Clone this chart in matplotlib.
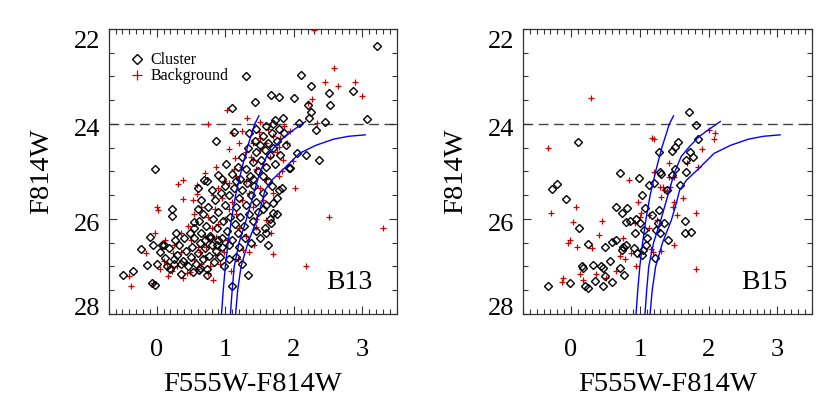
import numpy as np
import matplotlib
matplotlib.use("Agg")
from matplotlib import pyplot as plt
from matplotlib.ticker import MultipleLocator, FixedLocator
from matplotlib.transforms import ScaledTranslation

# isochrones (same three curves in both panels)
iso_a_color = [0.945, 0.97, 1.00, 1.04, 1.09, 1.15, 1.23, 1.32, 1.43, 1.49]
iso_a_mag = [28.0, 27.5, 27.0, 26.5, 26.0, 25.5, 25.0, 24.5, 24.0, 23.83]
iso_b_color = [1.075, 1.10, 1.13, 1.20, 1.31, 1.43, 1.50, 1.60, 1.72, 1.86, 1.99, 2.13, 2.17]
iso_b_mag = [28.0, 27.5, 27.0, 26.5, 26.0, 25.39, 25.04, 24.69, 24.48, 24.27, 24.13, 23.99, 23.95]
iso_c_color = [1.15, 1.18, 1.23, 1.33, 1.46, 1.53, 1.58, 1.68, 1.85, 2.08, 2.32, 2.58, 2.80, 3.04]
iso_c_mag = [28.0, 27.5, 27.0, 26.5, 26.02, 25.67, 25.39, 25.18, 24.95, 24.62, 24.45, 24.32, 24.26, 24.23]

# B13 cluster stars (color, mag)
b13_cl_color = [
    3.21, 2.10, 1.30, 2.25, 2.51, 2.86, 1.66, 1.78, 2.00, 1.43, 1.10, 2.53, 2.21, 2.25, 2.22,
    2.46, 3.07, 2.07, 1.84, 1.73, 1.12, 0.87, 2.32, 2.04, 2.17, 2.37, 1.93, -0.02, 1.79, 0.69,
    0.90, 1.01, 0.22, 0.22, 0.60, -0.10, -0.23, -0.06, 0.08, -0.14, -0.34, -0.49, -0.07, -0.02,
    0.28, 1.10, 1.33, 0.15, 0.25, 0.36, 0.55, 0.53, 0.73, 0.63, 1.70, 1.70, 1.82, 1.67, 1.59,
    1.55, 1.94,
    0.05, 0.12, 0.18, 0.25, 0.30, 0.33, 0.38, 0.42, 0.45, 0.50, 0.52, 0.57, 0.60, 0.63, 0.67,
    0.70, 0.73, 0.76, 0.80, 0.83, 0.86, 0.90, 0.20, 0.10, 0.40, 0.48, 0.55, 0.65, 0.35, 0.78,
    0.92, 0.95, 0.62, 0.27, 0.00,
    0.55, 0.62, 0.68, 0.72, 0.75, 0.78, 0.82, 0.85, 0.88, 0.90, 0.93, 0.95, 0.97, 1.00, 1.02,
    1.05, 1.07, 1.10, 1.12, 1.14, 1.16, 1.18, 1.20, 1.22, 1.25, 1.27, 1.30, 1.32, 1.35, 1.38,
    1.40, 1.42, 1.45, 1.48, 0.70, 0.88, 1.05, 1.20, 1.28, 1.00, 0.80, 0.65, 1.15, 0.95, 0.60,
    0.73,
    1.10, 1.18, 1.22, 1.25, 1.30, 1.33, 1.36, 1.40, 1.43, 1.45, 1.48, 1.50, 1.52, 1.55, 1.58,
    1.60, 1.62, 1.65, 1.68, 1.70, 1.72, 1.75, 1.78, 1.55, 1.62, 1.40, 1.35, 1.45, 1.60, 1.70,
    1.85, 1.88, 1.80,
    1.55, 1.60, 1.65, 1.75, 1.58, 1.50, 1.62, 1.75, 1.68, 1.45, 1.38, 1.25, 1.15, 1.05, 0.98,
]
b13_cl_mag = [
    22.36, 22.98, 23.00, 23.21, 23.34, 23.31, 23.40, 23.44, 23.45, 23.53, 23.67, 23.61, 23.60, 23.74, 23.87,
    23.95, 23.90, 23.99, 23.88, 23.92, 24.18, 24.35, 24.13, 24.62, 24.65, 24.76, 24.93, 24.95, 25.39, 25.18,
    25.07, 24.84, 25.80, 25.94, 25.79, 26.37, 26.64, 26.55, 26.55, 26.97, 27.09, 27.19, 27.35, 27.39,
    26.30, 27.41, 27.18, 27.00, 26.85, 27.16, 26.06, 27.11, 27.18, 27.04, 25.88, 25.67, 25.35, 26.08, 26.30,
    25.78, 24.93,
    26.70, 26.82, 26.62, 26.95, 26.75, 26.55, 26.88, 26.68, 27.00, 26.80, 26.58, 26.95, 26.72, 26.50, 26.85,
    26.62, 27.05, 26.78, 26.55, 26.90, 26.68, 26.45, 27.05, 26.55, 26.40, 26.30, 26.40, 26.30, 26.95, 26.40,
    26.80, 26.60, 27.08, 26.45, 26.95,
    26.20, 26.05, 25.90, 26.15, 25.75, 26.35, 26.00, 25.60, 26.20, 25.85, 25.45, 26.40, 26.05, 25.70, 26.25,
    25.50, 25.95, 26.45, 25.35, 26.10, 25.75, 26.30, 25.55, 25.95, 25.40, 26.15, 25.70, 25.25, 25.90, 25.50,
    26.05, 25.30, 25.65, 25.85, 26.45, 26.55, 26.55, 26.60, 26.40, 25.30, 25.40, 25.60, 25.20, 25.15, 25.35,
    25.20,
    25.05, 24.90, 25.15, 24.70, 24.95, 24.50, 25.10, 24.80, 24.35, 24.60, 25.00, 24.45, 24.75, 24.25, 24.55,
    24.90, 24.40, 24.65, 24.20, 24.50, 24.85, 24.35, 24.10, 25.10, 25.20, 25.15, 24.20, 24.10, 24.05, 24.00,
    24.20, 24.45, 24.65,
    25.45, 25.70, 26.00, 25.55, 26.20, 26.40, 26.55, 25.90, 25.30, 26.25, 26.50, 26.95, 26.80, 26.85, 27.00,
]

# B13 background stars
b13_bg_color = [
    2.30, 2.58, 2.46, 2.64, 2.89, 2.99, 2.26, 2.20, 1.03, 1.31, 0.75, 1.10, 1.05, 1.14, 0.86,
    0.70, 0.39, 0.31, 0.58, 0.39, 0.53, 0.58, 0.01, 0.02, -0.02, 0.23, 0.10, 0.17, -0.40, -0.38,
    -0.16, -0.05, 0.39, 0.44, 2.17, 2.51, 3.30, 1.70, 2.01, 1.82, 1.99, 1.84, 2.33, 1.49, 1.50,
    1.79, 1.41, 0.63, 0.87, 0.75, 0.82, 1.26, 1.45, 1.60, 1.67,
    0.15, 0.22, 0.30, 0.35, 0.42, 0.48, 0.55, 0.58, 0.65, 0.70, 0.78, 0.85, 0.92, 0.98, 1.03,
    0.60, 0.70, 0.80, 0.90, 1.00, 1.05, 1.10, 1.15, 1.20, 1.25, 1.30, 1.35, 1.40, 1.45, 1.50,
    1.55, 0.85, 0.75, 0.65, 0.55, 0.95, 1.05, 1.15, 1.25, 1.30, 1.38, 1.45, 1.50, 1.55, 1.60,
    1.65, 1.70, 1.75, 1.80, 1.85, 1.90, 1.95, 1.40, 1.30, 1.20, 1.12, 0.98, 0.90, 0.82, 0.45,
    0.35, 0.25, 0.12, 0.05, 1.60, 1.70, 1.78, 1.35, 1.18, 1.08, 1.42, 0.50, 0.72, 1.62, 1.50,
    1.25,
]
b13_bg_mag = [
    22.02, 22.83, 23.12, 23.21, 23.11, 23.42, 23.47, 23.56, 23.71, 23.88, 24.01, 24.20, 24.53, 24.72, 24.90,
    25.04, 25.18, 25.26, 25.28, 25.59, 25.60, 25.48, 25.74, 25.81, 26.30, 26.71, 26.88, 27.21, 27.21, 27.42,
    26.72, 27.35, 27.25, 27.14, 26.98, 25.96, 26.18, 26.74, 25.35, 25.00, 24.79, 24.76, 23.99, 24.18, 24.30,
    24.48, 24.76, 26.69, 26.37, 27.14, 27.28, 26.65, 26.16, 26.02, 26.30,
    26.95, 27.10, 27.00, 26.70, 26.90, 27.12, 26.85, 27.05, 26.95, 26.80, 27.00, 26.75, 26.95, 26.70, 26.45,
    26.60, 26.35, 26.20, 26.10, 26.00, 25.80, 25.65, 25.90, 26.20, 25.60, 26.35, 25.45, 25.75, 26.00, 25.35,
    25.60, 25.80, 25.95, 25.75, 25.90, 25.55, 25.25, 25.10, 24.90, 25.20, 24.70, 24.95, 24.55, 24.85, 24.40,
    24.70, 24.25, 24.60, 24.30, 24.05, 24.40, 24.15, 24.40, 24.60, 24.40, 24.95, 25.20, 25.35, 25.50, 26.15,
    26.30, 26.55, 26.45, 27.05, 25.15, 25.45, 25.10, 26.70, 26.85, 27.10, 26.55, 26.45, 26.60, 24.10, 23.95,
    24.15,
]

# B15 cluster stars
b15_cl_color = [
    1.72, 1.82, 1.85, 0.10, 1.28, 1.47, 1.51, 1.55, 1.73, 1.78, 1.67, 0.71, 0.99, 1.14, 1.20,
    1.30, 1.31, 1.51, 1.47, 1.67, 1.59, 1.39, -0.21, -0.28, -0.07, 1.03, 0.65, 0.74, 0.82, 0.12,
    0.25, 0.16, 0.18, 0.32, 0.44, 0.46, 0.56, 0.35, -0.01, -0.33, 0.20, 0.24, 0.46, 0.60, 0.50,
    0.49, 0.59, 0.66, 0.74, 0.76, 0.80, 0.71, 0.77, 0.93, 0.91, 0.96, 1.03, 1.05, 1.09, 1.10,
    1.06, 1.00, 0.94, 0.86, 0.80, 1.22, 1.23, 1.28, 1.27, 1.35, 1.41, 1.30, 1.66, 1.66, 1.74,
    1.08, 1.17,
]
b15_cl_mag = [
    23.75, 24.02, 24.32, 24.39, 24.60, 24.57, 24.48, 24.37, 24.60, 24.70, 24.76, 25.04, 25.13, 25.28, 25.25,
    25.02, 25.05, 24.95, 25.07, 25.02, 25.28, 25.40, 25.26, 25.38, 25.57, 25.49, 25.74, 25.87, 25.76, 26.18,
    26.53, 26.99, 27.04, 26.97, 26.99, 27.04, 26.88, 27.31, 27.34, 27.42, 27.42, 27.45, 27.41, 27.32, 27.21,
    26.58, 26.48, 26.44, 26.65, 26.60, 26.55, 27.04, 27.18, 26.30, 26.62, 26.72, 26.76, 26.65, 26.55, 26.41,
    26.23, 26.09, 26.01, 26.04, 26.06, 26.83, 26.23, 25.82, 26.09, 26.08, 26.44, 26.30, 26.04, 26.30, 26.28,
    25.77, 25.92,
]

# B15 background stars
b15_bg_color = [
    0.29, -0.34, -0.29, 1.17, 1.20, 2.00, 2.10, 2.08, 1.90, 1.84, 1.68, 1.43, 1.49, 0.85, 1.21,
    1.30, 1.44, 1.63, 1.82, 1.54, 1.48, 1.49, 1.39, 1.33, 0.07, 0.45, 0.03, -0.02, -0.04, 0.08,
    0.40, 0.30, 0.36, 0.13, 0.18, -0.11, -0.13, 0.51, 0.66, 0.71, 0.79, 0.87, 0.95, 0.75, 0.97,
    1.02, 0.93, 1.00, 1.13, 1.16, 1.19, 1.31, 1.50, 1.82, 1.13, 1.25, 1.31, 1.35, 1.42,
]
b15_bg_mag = [
    23.46, 24.51, 25.87, 24.29, 24.32, 24.13, 24.20, 24.32, 24.53, 24.90, 24.83, 24.83, 25.11, 25.19, 25.02,
    25.32, 25.33, 25.56, 25.87, 25.92, 25.75, 25.64, 25.42, 25.32, 25.75, 26.04, 26.06, 26.44, 26.51, 26.60,
    26.34, 26.62, 27.16, 27.16, 27.28, 27.25, 27.33, 27.25, 27.09, 26.78, 26.84, 26.72, 27.00, 26.41, 25.64,
    25.87, 26.09, 25.95, 25.92, 26.64, 26.69, 26.67, 26.55, 27.06, 26.20, 26.03, 25.53, 25.39, 25.11,
]

plt.rcParams["font.family"] = ["Liberation Serif", "DejaVu Serif"]

fig = plt.figure(figsize=(8.3, 4.15), dpi=100)
ax1 = fig.add_axes([0.131, 0.2434, 0.347, 0.687])
ax2 = fig.add_axes([0.630, 0.2434, 0.348, 0.687])

panels = [
    (ax1, b13_cl_color, b13_cl_mag, b13_bg_color, b13_bg_mag, "B13"),
    (ax2, b15_cl_color, b15_cl_mag, b15_bg_color, b15_bg_mag, "B15"),
]


def px_shift(dy_px):
    # downward shift in pixels
    return ScaledTranslation(0, -dy_px / 100.0, fig.dpi_scale_trans)


for ax, cc, cm, bc, bm, name in panels:
    ax.axhline(24, color="#444444", lw=1.0, ls=(0, (7, 4)), zorder=1)
    h_bg, = ax.plot(bc, bm, ls="none", marker="+", ms=5, mew=0.9,
                    color="#d00000", zorder=2, label="Background")
    h_cl, = ax.plot(cc, cm, ls="none", marker="D", ms=4, mew=1.0,
                    mfc="none", mec="black", zorder=3, label="Cluster")
    for xs, ys in [(iso_a_color, iso_a_mag), (iso_b_color, iso_b_mag), (iso_c_color, iso_c_mag)]:
        ax.plot(xs, ys, color="blue", lw=1.0, zorder=4)

    ax.set_xlim(-0.7, 3.5)
    ax.set_ylim(28, 22)
    ax.xaxis.set_major_locator(FixedLocator([0, 1, 2, 3]))
    ax.xaxis.set_minor_locator(MultipleLocator(0.1))
    ax.yaxis.set_major_locator(FixedLocator([22, 24, 26, 28]))
    ax.yaxis.set_minor_locator(MultipleLocator(0.5))
    ax.tick_params(which="both", direction="in", top=True, right=True,
                   width=0.8, color="#333333")
    ax.tick_params(which="major", length=6)
    ax.tick_params(which="minor", length=3.5)
    ax.tick_params(axis="x", which="major", labelsize=19, pad=18)
    ax.tick_params(axis="y", which="major", labelsize=19, pad=6)
    for sp in ax.spines.values():
        sp.set_linewidth(0.9)
        sp.set_color("#333333")

    ylabels = ax.get_yticklabels()
    for i, lab in enumerate(ylabels):
        if i == 0:
            lab.set_verticalalignment("top")
            lab.set_transform(lab.get_transform() + px_shift(2))
        elif i == len(ylabels) - 1:
            lab.set_verticalalignment("bottom")
            lab.set_transform(lab.get_transform() + px_shift(6))
        else:
            lab.set_transform(lab.get_transform() + px_shift(4))

    ax.set_xlabel("F555W-F814W", fontsize=20.5, labelpad=8)
    ax.set_ylabel("F814W", fontsize=20.5, labelpad=14)
    ax.text(0.837, 0.112, name, transform=ax.transAxes, fontsize=20,
            ha="center", va="center")

    if name == "B13":
        ax.legend(handles=[h_cl, h_bg], loc="upper left", bbox_to_anchor=(0.05, 0.94),
                  frameon=False, fontsize=11.5, markerscale=1.4, handlelength=0.9,
                  handletextpad=0.4, labelspacing=0.0, borderaxespad=0.0)

fig.savefig("out.png", dpi=100)
